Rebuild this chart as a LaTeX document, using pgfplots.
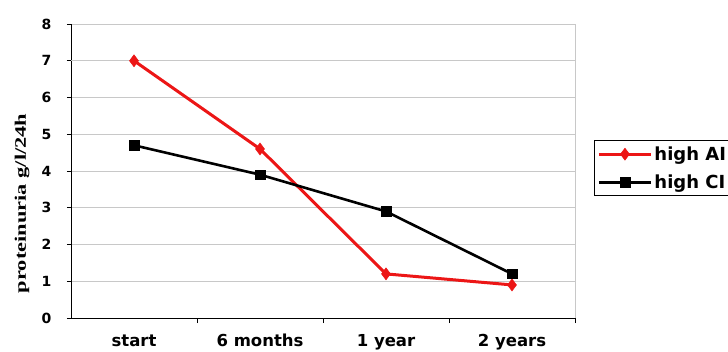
\documentclass[border=0pt]{standalone}
\usepackage{pgfplots}
\pgfplotsset{compat=1.18}
\usepackage{fontspec}
\setmainfont{DejaVu Sans}
\newfontfamily\labelserif{Liberation Serif}

\definecolor{seriesred}{RGB}{236,22,22}
\definecolor{gridgray}{RGB}{200,200,200}
\definecolor{darkgrid}{RGB}{110,110,110}

\begin{document}
\begin{tikzpicture}
\useasboundingbox (0,0) rectangle (728pt,351pt);
\clip (0,0) rectangle (728pt,351pt);
\begin{axis}[
  at={(71pt,33pt)}, anchor=south west,
  scale only axis, width=504pt, height=294pt,
  xmin=-0.5, xmax=3.5, ymin=0, ymax=8,
  axis x line*=bottom, axis y line*=left,
  axis line style={black, line width=0.9pt, -},
  xtick={0,1,2,3},
  xticklabels={start,6 months,1 year,2 years},
  minor xtick={0.5,1.5,2.5,3.5},
  major x tick style={draw=none},
  minor x tick style={black, line width=0.8pt},
  minor tick length=5pt,
  ytick={0,1,...,8},
  major tick length=4pt,
  y tick style={black, line width=0.8pt},
  tick align=outside,
  ymajorgrids,
  major grid style={gridgray, line width=0.8pt},
  extra y ticks={7},
  extra y tick labels={},
  extra y tick style={grid style={darkgrid, line width=0.9pt}},
  xticklabel style={font=\fontsize{16.5}{16.5}\selectfont\bfseries,
    text height=12pt, text depth=3pt, yshift=-9pt},
  yticklabel style={font=\fontsize{14}{14}\selectfont\bfseries, xshift=-12pt},
  /pgf/number format/assume math mode=true,
  ylabel={\scalebox{1.4}[1]{\labelserif\bfseries\fontsize{16}{16}\selectfont proteinuria g/l/24h}},
  ylabel style={at={(axis description cs:-0.097,0.39)}, anchor=center},
  legend style={
    at={(rel axis cs:1.0377,0.605)}, anchor=north west,
    draw=black, line width=0.9pt, fill=white,
    font=\fontsize{18}{18}\selectfont\bfseries,
    inner xsep=3pt, inner ysep=4pt,
    row sep=9pt,
    legend cell align=left,
  },
  legend image code/.code={%
    \draw[#1, mark repeat=2, mark phase=2]
      plot coordinates {(0pt,0pt) (26pt,0pt) (52pt,0pt)};},
  clip=false,
]
\draw[gridgray, line width=0.8pt] (rel axis cs:1,0) -- (rel axis cs:1,1);

\addplot[seriesred, line width=3pt, mark=diamond*, mark size=6pt,
  mark options={seriesred, solid, line width=0.5pt}]
  coordinates {(0,7.0) (1,4.6) (2,1.2) (3,0.9)};
\addlegendentry{high AI}

\addplot[black, line width=2.6pt, mark=square*, mark size=4.8pt,
  mark options={black, solid, line width=0.5pt}]
  coordinates {(0,4.7) (1,3.9) (2,2.9) (3,1.2)};
\addlegendentry{high CI}
\end{axis}
\end{tikzpicture}
\end{document}
